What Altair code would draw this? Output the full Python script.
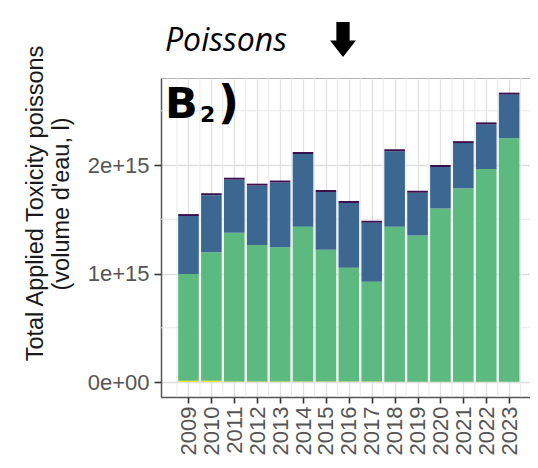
import altair as alt
import pandas as pd

years = list(range(2009, 2024))
categories = ["Groupe 1", "Groupe 2", "Groupe 3", "Groupe 4"]
colors = ["#fde725", "#5cb97f", "#3b6790", "#3a1050"]

yellow = [0.012e15, 0.012e15, 0.006e15, 0.006e15, 0.006e15, 0.006e15, 0.006e15, 0.006e15,
          0.006e15, 0.002e15, 0.002e15, 0.002e15, 0.002e15, 0.002e15, 0.002e15]
green = [0.983e15, 1.183e15, 1.370e15, 1.257e15, 1.235e15, 1.424e15, 1.214e15, 1.047e15,
         0.919e15, 1.428e15, 1.348e15, 1.598e15, 1.783e15, 1.961e15, 2.244e15]
blue = [0.535e15, 0.527e15, 0.489e15, 0.547e15, 0.598e15, 0.672e15, 0.532e15, 0.597e15,
        0.544e15, 0.697e15, 0.395e15, 0.382e15, 0.417e15, 0.412e15, 0.403e15]
purple = [0.018e15] * 15

y_ticks = [0, 1e15, 2e15]

rows = []
for i, yr in enumerate(years):
    for k, (cat, vals) in enumerate(zip(categories, [yellow, green, blue, purple])):
        rows.append({"year": yr, "cat": cat, "order": k, "value": vals[i]})
df = pd.DataFrame(rows)

minor_x = pd.DataFrame({"xm": [y - 0.5 for y in years] + [years[-1] + 0.5]})
minor_y = pd.DataFrame({"ym": [v + 0.5e15 for v in y_ticks]})

xscale = alt.Scale(domain=[2007.8, 2023.91], nice=False, zero=False)
yscale = alt.Scale(domain=[-0.138e15, 2.802e15], nice=False, zero=False)

FONT = "Liberation Sans"

xaxis = alt.Axis(values=years, format="d", title=None, labelAngle=270, labelAlign="right",
                 labelBaseline="middle", labelFontSize=22, labelFont=FONT, labelColor="#555555",
                 labelPadding=3, labelFlush=False, labelOverlap=False,
                 tickColor="#333333", tickSize=6, tickWidth=1.6,
                 domainColor="#555555", domainWidth=1.5,
                 grid=True, gridColor="#e0e0e0", gridWidth=1.3)
yaxis = alt.Axis(values=y_ticks, title=None,
                 labelExpr="datum.value == 0 ? '0e+00' : format(datum.value, '.0e')",
                 labelFontSize=22, labelFont=FONT, labelColor="#555555", labelPadding=5,
                 tickColor="#333333", tickSize=7, tickWidth=1.6,
                 domainColor="#555555", domainWidth=1.5,
                 grid=True, gridColor="#e0e0e0", gridWidth=1.3)

gx = alt.Chart(minor_x).mark_rule(color="#e8e8e8", strokeWidth=1).encode(
    x=alt.X("xm:Q", scale=xscale, axis=xaxis))
gy = alt.Chart(minor_y).mark_rule(color="#e8e8e8", strokeWidth=1).encode(
    y=alt.Y("ym:Q", scale=yscale, axis=yaxis))

bars = alt.Chart(df).transform_stack(
    stack="value", groupby=["year"], as_=["v0", "v1"],
    sort=[alt.SortField("order", order="ascending")]
).transform_calculate(
    x0="datum.year - 0.45", x1="datum.year + 0.45"
).mark_bar().encode(
    x=alt.X("x0:Q", scale=xscale, axis=xaxis),
    x2="x1:Q",
    y=alt.Y("v0:Q", scale=yscale, axis=yaxis),
    y2="v1:Q",
    color=alt.Color("cat:N", scale=alt.Scale(domain=categories, range=colors), legend=None),
)

def label(text, x, y, **kw):
    return alt.Chart(pd.DataFrame({"t": [text]})).mark_text(**kw).encode(
        text="t:N", x=alt.value(x), y=alt.value(y))

title1 = label("Total Applied Toxicity poissons", -125, 125.5, angle=270, align="center",
               baseline="middle", font=FONT, fontSize=23.5, color="#1a1a1a")
title2 = label("(volume d'eau, l)", -99, 126, angle=270, align="center",
               baseline="middle", font=FONT, fontSize=23.5, color="#1a1a1a")
poissons = label("Poissons", 4, -27, align="left", baseline="alphabetic", font="Open Sans",
                 fontStyle="italic", fontSize=32, color="#000000")
b_main = label("B", 4, 40, align="left", baseline="alphabetic", font="DejaVu Sans",
               fontWeight="bold", fontSize=43, color="#000000")
b_sub = label("2", 39, 44, align="left", baseline="alphabetic", font="DejaVu Sans",
              fontWeight="bold", fontSize=22, color="#000000")
b_par = label(")", 57, 40, align="left", baseline="alphabetic", font="DejaVu Sans",
              fontWeight="bold", fontSize=46, color="#000000")

arrow_path = "M-0.38,-1 L0.38,-1 L0.38,0.05 L0.74,0.05 L0,1 L-0.74,0.05 L-0.38,0.05 Z"
arrow = alt.Chart(pd.DataFrame({"a": [0]})).mark_point(
    shape=arrow_path, filled=True, color="#000000", size=1225, opacity=1, strokeWidth=0
).encode(x=alt.value(182), y=alt.value(-38.5))

chart = alt.layer(gx, gy, bars, title1, title2, poissons, b_main, b_sub, b_par, arrow).properties(
    width=369, height=319,
    autosize=alt.AutoSizeParams(type="none"),
    padding={"left": 153, "top": 70, "right": 0, "bottom": 63},
).configure_view(stroke="#b3b3b3", strokeWidth=1)

chart.save("out.html", embed_options={"renderer": "svg", "actions": False})
